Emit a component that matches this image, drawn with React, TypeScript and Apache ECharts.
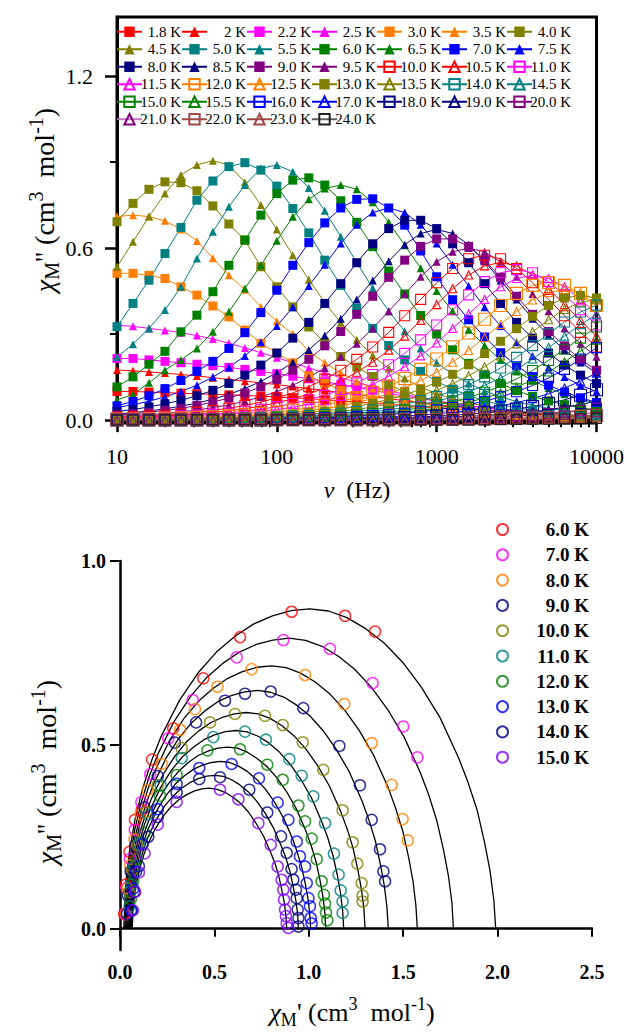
import React, { useEffect, useRef } from 'react';
import * as echarts from 'echarts';

// ---------- frequencies (Hz) ----------
const FREQ = [10, 12.59, 15.85, 19.95, 25.12, 31.62, 39.81, 50.12, 63.1, 79.43, 100, 125.9, 158.5, 199.5, 251.2, 316.2, 398.1, 501.2, 631, 794.3, 1000, 1259, 1585, 1995, 2512, 3162, 3981, 5012, 6310, 7943, 10000];

// ---------- chi'' vs frequency (cm3 mol-1) ----------
const T1_8 = [0.1, 0.1, 0.098, 0.096, 0.094, 0.092, 0.09, 0.088, 0.086, 0.084, 0.081, 0.078, 0.075, 0.071, 0.067, 0.063, 0.059, 0.055, 0.051, 0.047, 0.043, 0.039, 0.035, 0.031, 0.028, 0.025, 0.022, 0.019, 0.016, 0.014, 0.012];
const T2_0 = [0.175, 0.172, 0.168, 0.164, 0.159, 0.154, 0.148, 0.142, 0.136, 0.13, 0.124, 0.117, 0.11, 0.103, 0.096, 0.089, 0.082, 0.075, 0.068, 0.061, 0.054, 0.048, 0.042, 0.037, 0.032, 0.028, 0.024, 0.02, 0.017, 0.014, 0.012];
const T2_2 = [0.215, 0.215, 0.21, 0.205, 0.2, 0.195, 0.19, 0.184, 0.177, 0.17, 0.162, 0.153, 0.144, 0.134, 0.124, 0.114, 0.104, 0.094, 0.084, 0.075, 0.066, 0.058, 0.05, 0.043, 0.037, 0.031, 0.026, 0.022, 0.018, 0.015, 0.013];
const T2_5 = [0.331, 0.327, 0.32, 0.313, 0.305, 0.295, 0.283, 0.268, 0.252, 0.235, 0.218, 0.2, 0.182, 0.165, 0.148, 0.132, 0.117, 0.103, 0.09, 0.078, 0.068, 0.058, 0.05, 0.043, 0.037, 0.031, 0.027, 0.023, 0.02, 0.017, 0.015];
const T3_0 = [0.512, 0.512, 0.505, 0.494, 0.465, 0.436, 0.398, 0.36, 0.314, 0.268, 0.234, 0.2, 0.155, 0.128, 0.105, 0.085, 0.07, 0.057, 0.047, 0.04, 0.034, 0.029, 0.025, 0.021, 0.018, 0.016, 0.014, 0.012, 0.01, 0.009, 0.008];
const T3_5 = [0.71, 0.715, 0.71, 0.695, 0.665, 0.625, 0.565, 0.505, 0.455, 0.395, 0.345, 0.3, 0.24, 0.2, 0.165, 0.135, 0.11, 0.09, 0.073, 0.06, 0.05, 0.042, 0.035, 0.03, 0.025, 0.021, 0.018, 0.015, 0.013, 0.011, 0.01];
const T4_0 = [0.692, 0.756, 0.805, 0.831, 0.828, 0.8, 0.747, 0.684, 0.628, 0.535, 0.465, 0.395, 0.325, 0.27, 0.222, 0.185, 0.152, 0.123, 0.1, 0.081, 0.066, 0.054, 0.044, 0.036, 0.03, 0.025, 0.021, 0.017, 0.014, 0.012, 0.01];
const T4_5 = [0.535, 0.622, 0.71, 0.79, 0.855, 0.89, 0.905, 0.89, 0.83, 0.75, 0.665, 0.575, 0.49, 0.41, 0.34, 0.28, 0.225, 0.18, 0.145, 0.115, 0.092, 0.075, 0.06, 0.049, 0.04, 0.033, 0.027, 0.022, 0.018, 0.015, 0.012];
const T5_0 = [0.326, 0.407, 0.488, 0.581, 0.672, 0.767, 0.834, 0.884, 0.898, 0.872, 0.816, 0.738, 0.653, 0.558, 0.47, 0.39, 0.32, 0.26, 0.21, 0.17, 0.135, 0.108, 0.086, 0.068, 0.054, 0.043, 0.034, 0.027, 0.022, 0.018, 0.015];
const T5_5 = [0.22, 0.265, 0.32, 0.384, 0.465, 0.564, 0.657, 0.744, 0.82, 0.878, 0.89, 0.866, 0.81, 0.73, 0.64, 0.55, 0.46, 0.38, 0.31, 0.25, 0.2, 0.16, 0.128, 0.102, 0.081, 0.065, 0.052, 0.041, 0.033, 0.026, 0.021];
const T6_0 = [0.116, 0.151, 0.195, 0.24, 0.308, 0.366, 0.448, 0.54, 0.628, 0.715, 0.79, 0.837, 0.845, 0.82, 0.765, 0.69, 0.605, 0.52, 0.44, 0.365, 0.3, 0.245, 0.198, 0.16, 0.128, 0.103, 0.083, 0.067, 0.054, 0.043, 0.035];
const T6_5 = [0.07, 0.09, 0.13, 0.174, 0.21, 0.25, 0.308, 0.378, 0.459, 0.54, 0.626, 0.709, 0.77, 0.808, 0.82, 0.805, 0.76, 0.69, 0.61, 0.53, 0.45, 0.38, 0.315, 0.26, 0.21, 0.17, 0.138, 0.112, 0.09, 0.073, 0.059];
const T7_0 = [0.05, 0.065, 0.085, 0.11, 0.138, 0.17, 0.205, 0.25, 0.305, 0.375, 0.453, 0.54, 0.619, 0.688, 0.74, 0.77, 0.772, 0.74, 0.68, 0.59, 0.5, 0.42, 0.35, 0.29, 0.235, 0.19, 0.152, 0.122, 0.098, 0.078, 0.062];
const T7_5 = [0.044, 0.054, 0.066, 0.081, 0.1, 0.122, 0.15, 0.184, 0.224, 0.272, 0.328, 0.394, 0.468, 0.542, 0.616, 0.681, 0.724, 0.74, 0.724, 0.681, 0.616, 0.542, 0.468, 0.394, 0.328, 0.272, 0.224, 0.184, 0.15, 0.122, 0.1];
const T8_0 = [0.03, 0.037, 0.046, 0.057, 0.069, 0.085, 0.104, 0.128, 0.157, 0.192, 0.234, 0.286, 0.341, 0.407, 0.476, 0.549, 0.615, 0.668, 0.697, 0.697, 0.668, 0.615, 0.549, 0.476, 0.407, 0.341, 0.286, 0.234, 0.192, 0.157, 0.128];
const T8_5 = [0.021, 0.026, 0.032, 0.039, 0.049, 0.059, 0.073, 0.09, 0.11, 0.135, 0.165, 0.201, 0.245, 0.295, 0.354, 0.421, 0.487, 0.554, 0.612, 0.651, 0.665, 0.651, 0.612, 0.554, 0.487, 0.421, 0.354, 0.295, 0.245, 0.201, 0.165];
const T9_0 = [0.018, 0.022, 0.027, 0.034, 0.041, 0.051, 0.063, 0.077, 0.095, 0.116, 0.142, 0.174, 0.212, 0.259, 0.309, 0.369, 0.432, 0.498, 0.558, 0.606, 0.632, 0.632, 0.606, 0.558, 0.498, 0.432, 0.369, 0.309, 0.259, 0.212, 0.174];
const T9_5 = [0.013, 0.016, 0.019, 0.023, 0.029, 0.035, 0.044, 0.053, 0.066, 0.081, 0.099, 0.122, 0.149, 0.182, 0.221, 0.266, 0.32, 0.38, 0.44, 0.5, 0.552, 0.587, 0.6, 0.587, 0.552, 0.5, 0.44, 0.38, 0.32, 0.266, 0.221];
const T10_0 = [0.01, 0.012, 0.015, 0.018, 0.022, 0.028, 0.034, 0.042, 0.051, 0.063, 0.078, 0.095, 0.117, 0.143, 0.174, 0.212, 0.255, 0.306, 0.364, 0.421, 0.479, 0.529, 0.563, 0.575, 0.563, 0.529, 0.479, 0.421, 0.364, 0.306, 0.255];
const T10_5 = [0.008, 0.009, 0.012, 0.014, 0.018, 0.021, 0.027, 0.032, 0.04, 0.049, 0.061, 0.074, 0.091, 0.112, 0.136, 0.167, 0.202, 0.244, 0.293, 0.348, 0.403, 0.458, 0.506, 0.538, 0.55, 0.538, 0.506, 0.458, 0.403, 0.348, 0.293];
const T11_0 = [0.006, 0.007, 0.009, 0.011, 0.014, 0.017, 0.02, 0.025, 0.031, 0.038, 0.047, 0.058, 0.071, 0.087, 0.107, 0.13, 0.159, 0.193, 0.233, 0.28, 0.332, 0.385, 0.437, 0.483, 0.514, 0.525, 0.514, 0.483, 0.437, 0.385, 0.332];
const T11_5 = [0.005, 0.006, 0.007, 0.009, 0.011, 0.013, 0.016, 0.02, 0.025, 0.03, 0.037, 0.045, 0.056, 0.068, 0.083, 0.103, 0.125, 0.153, 0.186, 0.224, 0.269, 0.32, 0.37, 0.421, 0.465, 0.494, 0.505, 0.494, 0.465, 0.421, 0.37];
const T12_0 = [0.004, 0.004, 0.005, 0.007, 0.008, 0.01, 0.012, 0.015, 0.019, 0.023, 0.028, 0.035, 0.043, 0.053, 0.065, 0.079, 0.097, 0.119, 0.145, 0.177, 0.213, 0.256, 0.304, 0.352, 0.4, 0.442, 0.47, 0.48, 0.47, 0.442, 0.4];
const T12_5 = [0.003, 0.003, 0.004, 0.005, 0.006, 0.008, 0.01, 0.012, 0.015, 0.018, 0.022, 0.027, 0.033, 0.04, 0.05, 0.061, 0.075, 0.092, 0.113, 0.138, 0.167, 0.202, 0.243, 0.288, 0.334, 0.379, 0.419, 0.445, 0.455, 0.445, 0.419];
const T13_0 = [0.002, 0.003, 0.003, 0.004, 0.005, 0.006, 0.007, 0.009, 0.011, 0.014, 0.017, 0.021, 0.026, 0.032, 0.039, 0.048, 0.059, 0.072, 0.088, 0.108, 0.132, 0.16, 0.193, 0.232, 0.275, 0.319, 0.362, 0.4, 0.426, 0.435, 0.426];
const T13_5 = [0.002, 0.002, 0.003, 0.003, 0.004, 0.005, 0.006, 0.007, 0.009, 0.011, 0.013, 0.016, 0.02, 0.025, 0.031, 0.037, 0.046, 0.057, 0.069, 0.085, 0.104, 0.127, 0.155, 0.186, 0.224, 0.266, 0.308, 0.35, 0.386, 0.411, 0.42];
const T14_0 = [0.001, 0.002, 0.002, 0.002, 0.003, 0.004, 0.005, 0.006, 0.007, 0.009, 0.011, 0.013, 0.016, 0.02, 0.024, 0.03, 0.036, 0.045, 0.055, 0.068, 0.083, 0.102, 0.124, 0.151, 0.182, 0.219, 0.26, 0.301, 0.342, 0.377, 0.401];
const T14_5 = [0.001, 0.001, 0.002, 0.002, 0.002, 0.003, 0.004, 0.004, 0.006, 0.007, 0.008, 0.01, 0.013, 0.016, 0.019, 0.024, 0.029, 0.036, 0.044, 0.054, 0.066, 0.081, 0.099, 0.121, 0.147, 0.177, 0.213, 0.253, 0.293, 0.333, 0.368];
const T15_0 = [0.001, 0.001, 0.001, 0.002, 0.002, 0.002, 0.003, 0.004, 0.004, 0.005, 0.007, 0.008, 0.01, 0.012, 0.015, 0.019, 0.023, 0.028, 0.035, 0.043, 0.053, 0.064, 0.079, 0.097, 0.118, 0.144, 0.173, 0.208, 0.247, 0.286, 0.325];
const T15_5 = [0.001, 0.001, 0.001, 0.001, 0.002, 0.002, 0.002, 0.003, 0.003, 0.004, 0.005, 0.006, 0.008, 0.01, 0.012, 0.015, 0.018, 0.022, 0.028, 0.034, 0.042, 0.051, 0.063, 0.077, 0.094, 0.115, 0.14, 0.168, 0.203, 0.241, 0.279];
const T16_0 = [0.001, 0.001, 0.001, 0.001, 0.001, 0.002, 0.002, 0.002, 0.003, 0.004, 0.004, 0.006, 0.007, 0.008, 0.01, 0.013, 0.016, 0.019, 0.024, 0.029, 0.036, 0.044, 0.054, 0.066, 0.081, 0.099, 0.121, 0.147, 0.177, 0.213, 0.253];
const T17_0 = [0.001, 0.001, 0.001, 0.001, 0.001, 0.001, 0.001, 0.001, 0.002, 0.002, 0.003, 0.003, 0.004, 0.005, 0.006, 0.008, 0.01, 0.012, 0.014, 0.018, 0.022, 0.027, 0.033, 0.041, 0.05, 0.061, 0.075, 0.092, 0.112, 0.136, 0.164];
const T18_0 = [0.001, 0.001, 0.001, 0.001, 0.001, 0.001, 0.001, 0.001, 0.001, 0.001, 0.002, 0.002, 0.003, 0.003, 0.004, 0.005, 0.006, 0.007, 0.009, 0.011, 0.014, 0.017, 0.021, 0.026, 0.031, 0.039, 0.047, 0.058, 0.071, 0.087, 0.106];
const T19_0 = [0.001, 0.001, 0.001, 0.001, 0.001, 0.001, 0.001, 0.001, 0.001, 0.001, 0.001, 0.001, 0.002, 0.002, 0.002, 0.003, 0.004, 0.005, 0.006, 0.007, 0.009, 0.011, 0.013, 0.016, 0.019, 0.024, 0.029, 0.036, 0.045, 0.054, 0.067];
const T20_0 = [0.001, 0.001, 0.001, 0.001, 0.001, 0.001, 0.001, 0.001, 0.001, 0.001, 0.001, 0.001, 0.001, 0.001, 0.002, 0.002, 0.002, 0.003, 0.003, 0.004, 0.005, 0.007, 0.008, 0.01, 0.012, 0.015, 0.018, 0.023, 0.028, 0.034, 0.042];
const T21_0 = [0.001, 0.001, 0.001, 0.001, 0.001, 0.001, 0.001, 0.001, 0.001, 0.001, 0.001, 0.001, 0.001, 0.001, 0.001, 0.001, 0.001, 0.002, 0.002, 0.003, 0.003, 0.004, 0.005, 0.006, 0.008, 0.009, 0.011, 0.014, 0.017, 0.021, 0.026];
const T22_0 = [0.001, 0.001, 0.001, 0.001, 0.001, 0.001, 0.001, 0.001, 0.001, 0.001, 0.001, 0.001, 0.001, 0.001, 0.001, 0.001, 0.001, 0.001, 0.001, 0.002, 0.002, 0.002, 0.003, 0.004, 0.005, 0.006, 0.007, 0.009, 0.011, 0.013, 0.016];
const T23_0 = [0.001, 0.001, 0.001, 0.001, 0.001, 0.001, 0.001, 0.001, 0.001, 0.001, 0.001, 0.001, 0.001, 0.001, 0.001, 0.001, 0.001, 0.001, 0.001, 0.001, 0.001, 0.001, 0.002, 0.002, 0.003, 0.004, 0.004, 0.005, 0.007, 0.008, 0.01];
const T24_0 = [0.001, 0.001, 0.001, 0.001, 0.001, 0.001, 0.001, 0.001, 0.001, 0.001, 0.001, 0.001, 0.001, 0.001, 0.001, 0.001, 0.001, 0.001, 0.001, 0.001, 0.001, 0.001, 0.001, 0.001, 0.002, 0.002, 0.003, 0.003, 0.004, 0.005, 0.006];

// ---------- Cole-Cole data [chi', chi''] ----------
const CC6 = [[0.022, 0.04], [0.03, 0.12], [0.05, 0.209], [0.079, 0.296], [0.115, 0.323], [0.17, 0.46], [0.282, 0.545], [0.441, 0.681], [0.636, 0.793], [0.909, 0.862], [1.192, 0.851], [1.351, 0.808]];
const CC7 = [[0.027, 0.04], [0.034, 0.111], [0.052, 0.19], [0.078, 0.269], [0.113, 0.344], [0.16, 0.42], [0.256, 0.518], [0.385, 0.622], [0.618, 0.738], [0.865, 0.785], [1.112, 0.761], [1.338, 0.668], [1.5, 0.55], [1.575, 0.466]];
const CC8 = [[0.032, 0.04], [0.04, 0.11], [0.054, 0.172], [0.077, 0.243], [0.108, 0.311], [0.146, 0.377], [0.221, 0.448], [0.318, 0.541], [0.397, 0.597], [0.516, 0.658], [0.697, 0.706], [0.98, 0.69], [1.188, 0.611], [1.333, 0.505], [1.439, 0.391], [1.497, 0.298], [1.524, 0.24]];
const CC9 = [[0.037, 0.04], [0.042, 0.09], [0.056, 0.156], [0.08, 0.226], [0.13, 0.33], [0.2, 0.415], [0.291, 0.506], [0.403, 0.561], [0.556, 0.62], [0.662, 0.639], [0.798, 0.645], [0.971, 0.6], [1.162, 0.497], [1.271, 0.39], [1.333, 0.296], [1.377, 0.216], [1.395, 0.156], [1.404, 0.129]];
const CC10 = [[0.05, 0.1], [0.065, 0.16], [0.09, 0.227], [0.14, 0.318], [0.2, 0.39], [0.327, 0.491], [0.477, 0.561], [0.609, 0.584], [0.768, 0.579], [0.862, 0.554], [0.968, 0.507], [1.077, 0.432], [1.179, 0.322], [1.232, 0.235], [1.257, 0.177], [1.28, 0.124], [1.285, 0.09], [1.285, 0.074]];
const CC11 = [[0.05, 0.06], [0.06, 0.12], [0.075, 0.17], [0.1, 0.23], [0.15, 0.31], [0.215, 0.39], [0.327, 0.464], [0.494, 0.521], [0.662, 0.536], [0.773, 0.514], [0.897, 0.461], [0.962, 0.416], [1.024, 0.36], [1.086, 0.287], [1.133, 0.204], [1.158, 0.147], [1.169, 0.104], [1.179, 0.074], [1.179, 0.043]];
const CC12 = [[0.057, 0.08], [0.07, 0.13], [0.09, 0.19], [0.13, 0.26], [0.212, 0.361], [0.3, 0.418], [0.463, 0.485], [0.636, 0.488], [0.78, 0.446], [0.862, 0.405], [0.945, 0.335], [0.98, 0.292], [1.015, 0.245], [1.042, 0.189], [1.068, 0.129], [1.08, 0.092], [1.086, 0.068], [1.091, 0.044], [1.098, 0.023]];
const CC13 = [[0.058, 0.05], [0.07, 0.109], [0.085, 0.155], [0.12, 0.23], [0.2, 0.325], [0.3, 0.394], [0.42, 0.437], [0.591, 0.448], [0.736, 0.409], [0.835, 0.343], [0.892, 0.296], [0.936, 0.237], [0.953, 0.197], [0.98, 0.169], [0.989, 0.124], [0.998, 0.083], [1.006, 0.061], [1.01, 0.029], [1.015, 0.014]];
const CC14 = [[0.063, 0.05], [0.075, 0.1], [0.1, 0.17], [0.15, 0.25], [0.2, 0.304], [0.3, 0.37], [0.42, 0.407], [0.53, 0.412], [0.685, 0.378], [0.78, 0.316], [0.853, 0.251], [0.883, 0.206], [0.909, 0.162], [0.918, 0.133], [0.932, 0.106], [0.936, 0.083], [0.941, 0.052], [0.945, 0.029], [0.945, 0.006]];
const CC15 = [[0.068, 0.05], [0.08, 0.1], [0.1, 0.153], [0.13, 0.205], [0.2, 0.283], [0.3, 0.345], [0.53, 0.378], [0.627, 0.352], [0.733, 0.287], [0.798, 0.228], [0.835, 0.169], [0.856, 0.133], [0.865, 0.106], [0.869, 0.079], [0.874, 0.052], [0.879, 0.034], [0.883, 0.015], [0.892, 0.002]];

// ---------- Cole-Cole fitted curves: x values and y values ----------
const FIT6_X = [0.02, 0.03, 0.05, 0.079, 0.118, 0.168, 0.217, 0.315, 0.414, 0.512, 0.611, 0.709, 0.808, 0.906, 1.005, 1.104, 1.202, 1.301, 1.399, 1.498, 1.596, 1.695, 1.793, 1.842, 1.892, 1.931, 1.96, 1.98, 1.99];
const FIT6_Y = [0, 0.122, 0.209, 0.296, 0.378, 0.458, 0.522, 0.621, 0.696, 0.753, 0.796, 0.829, 0.851, 0.865, 0.87, 0.864, 0.846, 0.816, 0.777, 0.724, 0.657, 0.574, 0.465, 0.4, 0.322, 0.235, 0.157, 0.078, 0];
const FIT7_X = [0.025, 0.034, 0.052, 0.078, 0.113, 0.156, 0.2, 0.287, 0.374, 0.461, 0.548, 0.635, 0.722, 0.809, 0.896, 0.983, 1.07, 1.157, 1.244, 1.331, 1.418, 1.505, 1.592, 1.636, 1.679, 1.714, 1.74, 1.758, 1.766];
const FIT7_Y = [0, 0.111, 0.19, 0.269, 0.344, 0.416, 0.474, 0.564, 0.632, 0.684, 0.723, 0.753, 0.773, 0.785, 0.79, 0.784, 0.768, 0.741, 0.705, 0.657, 0.596, 0.521, 0.423, 0.363, 0.292, 0.213, 0.142, 0.071, 0];
const FIT8_X = [0.03, 0.038, 0.054, 0.077, 0.108, 0.146, 0.185, 0.262, 0.339, 0.417, 0.494, 0.571, 0.648, 0.726, 0.803, 0.88, 0.957, 1.034, 1.112, 1.189, 1.266, 1.343, 1.421, 1.459, 1.498, 1.529, 1.552, 1.567, 1.575];
const FIT8_Y = [0, 0.1, 0.172, 0.243, 0.311, 0.377, 0.429, 0.511, 0.572, 0.619, 0.654, 0.681, 0.699, 0.711, 0.715, 0.71, 0.695, 0.671, 0.638, 0.595, 0.54, 0.472, 0.383, 0.329, 0.265, 0.193, 0.129, 0.064, 0];
const FIT9_X = [0.035, 0.042, 0.056, 0.077, 0.104, 0.139, 0.174, 0.243, 0.312, 0.381, 0.451, 0.52, 0.589, 0.659, 0.728, 0.797, 0.867, 0.936, 1.005, 1.075, 1.144, 1.213, 1.282, 1.317, 1.352, 1.379, 1.4, 1.414, 1.421];
const FIT9_Y = [0, 0.091, 0.156, 0.22, 0.282, 0.341, 0.389, 0.463, 0.518, 0.561, 0.593, 0.618, 0.634, 0.644, 0.648, 0.643, 0.63, 0.608, 0.579, 0.539, 0.489, 0.428, 0.347, 0.298, 0.24, 0.175, 0.117, 0.058, 0];
const FIT10_X = [0.04, 0.046, 0.059, 0.078, 0.103, 0.134, 0.166, 0.229, 0.292, 0.354, 0.417, 0.48, 0.543, 0.606, 0.669, 0.732, 0.795, 0.858, 0.921, 0.984, 1.046, 1.109, 1.172, 1.204, 1.235, 1.26, 1.279, 1.292, 1.298];
const FIT10_Y = [0, 0.082, 0.141, 0.2, 0.256, 0.31, 0.353, 0.42, 0.47, 0.509, 0.538, 0.56, 0.575, 0.584, 0.588, 0.584, 0.572, 0.552, 0.525, 0.489, 0.444, 0.388, 0.315, 0.27, 0.218, 0.159, 0.106, 0.053, 0];
const FIT11_X = [0.045, 0.051, 0.062, 0.079, 0.102, 0.13, 0.159, 0.216, 0.273, 0.33, 0.387, 0.444, 0.501, 0.558, 0.615, 0.672, 0.729, 0.786, 0.843, 0.9, 0.957, 1.014, 1.071, 1.1, 1.128, 1.151, 1.168, 1.179, 1.185];
const FIT11_Y = [0, 0.075, 0.129, 0.183, 0.234, 0.284, 0.323, 0.385, 0.431, 0.467, 0.493, 0.514, 0.527, 0.536, 0.539, 0.535, 0.524, 0.506, 0.481, 0.448, 0.407, 0.356, 0.288, 0.248, 0.199, 0.146, 0.097, 0.049, 0];
const FIT12_X = [0.05, 0.055, 0.066, 0.081, 0.102, 0.128, 0.154, 0.206, 0.258, 0.31, 0.362, 0.414, 0.466, 0.518, 0.57, 0.622, 0.674, 0.726, 0.778, 0.83, 0.882, 0.934, 0.986, 1.012, 1.038, 1.059, 1.074, 1.085, 1.09];
const FIT12_Y = [0, 0.069, 0.119, 0.168, 0.215, 0.26, 0.296, 0.353, 0.395, 0.428, 0.452, 0.471, 0.483, 0.491, 0.494, 0.491, 0.48, 0.463, 0.441, 0.411, 0.373, 0.326, 0.264, 0.227, 0.183, 0.133, 0.089, 0.044, 0];
const FIT13_X = [0.055, 0.06, 0.07, 0.084, 0.103, 0.127, 0.151, 0.199, 0.246, 0.294, 0.342, 0.39, 0.437, 0.485, 0.533, 0.58, 0.628, 0.676, 0.724, 0.771, 0.819, 0.867, 0.915, 0.938, 0.962, 0.981, 0.996, 1.005, 1.01];
const FIT13_Y = [0, 0.064, 0.109, 0.155, 0.198, 0.24, 0.273, 0.325, 0.364, 0.394, 0.416, 0.434, 0.445, 0.452, 0.455, 0.452, 0.442, 0.427, 0.406, 0.379, 0.344, 0.3, 0.243, 0.209, 0.168, 0.123, 0.082, 0.041, 0];
const FIT14_X = [0.06, 0.065, 0.074, 0.087, 0.105, 0.127, 0.149, 0.193, 0.237, 0.282, 0.326, 0.37, 0.414, 0.459, 0.503, 0.547, 0.591, 0.635, 0.68, 0.724, 0.768, 0.812, 0.856, 0.879, 0.901, 0.918, 0.932, 0.941, 0.945];
const FIT14_Y = [0, 0.058, 0.1, 0.142, 0.181, 0.22, 0.25, 0.298, 0.334, 0.361, 0.382, 0.397, 0.408, 0.415, 0.417, 0.414, 0.405, 0.391, 0.372, 0.347, 0.315, 0.275, 0.223, 0.192, 0.154, 0.113, 0.075, 0.038, 0];
const FIT15_X = [0.065, 0.069, 0.077, 0.09, 0.106, 0.126, 0.147, 0.188, 0.229, 0.269, 0.31, 0.351, 0.392, 0.433, 0.474, 0.515, 0.556, 0.597, 0.638, 0.679, 0.719, 0.76, 0.801, 0.822, 0.842, 0.858, 0.871, 0.879, 0.883];
const FIT15_Y = [0, 0.053, 0.092, 0.13, 0.166, 0.201, 0.229, 0.273, 0.306, 0.331, 0.35, 0.364, 0.374, 0.38, 0.382, 0.379, 0.371, 0.358, 0.341, 0.318, 0.288, 0.252, 0.204, 0.176, 0.141, 0.103, 0.069, 0.034, 0];

// ---------- tick labels ----------
const TOP_Y_TICKS = [0, 0.6, 1.2];
const TOP_Y_MINOR = [0.3, 0.9];
const TOP_X_MINOR_LOG = [1.30103, 1.47712, 1.60206, 1.69897, 1.77815, 1.8451, 1.90309, 1.95424, 2.30103, 2.47712, 2.60206, 2.69897, 2.77815, 2.8451, 2.90309, 2.95424, 3.30103, 3.47712, 3.60206, 3.69897, 3.77815, 3.8451, 3.90309, 3.95424];
const BOT_Y_TICKS = [0, 0.5, 1.0];

// ---------- styles ----------
const RED = '#FF0000', MAG = '#FF00FF', ORA = '#FF8000', OLI = '#808000', TEA = '#008080', GRN = '#008000', BLU = '#0000FF', NAV = '#000080', PUR = '#800080', BRN = '#A04848', BLK = '#202020';

const TOP_META = [
  { name: '1.8 K', data: T1_8, color: RED, symbol: 'rect', open: false },
  { name: '2 K', data: T2_0, color: RED, symbol: 'triangle', open: false },
  { name: '2.2 K', data: T2_2, color: MAG, symbol: 'rect', open: false },
  { name: '2.5 K', data: T2_5, color: MAG, symbol: 'triangle', open: false },
  { name: '3.0 K', data: T3_0, color: ORA, symbol: 'rect', open: false },
  { name: '3.5 K', data: T3_5, color: ORA, symbol: 'triangle', open: false },
  { name: '4.0 K', data: T4_0, color: OLI, symbol: 'rect', open: false },
  { name: '4.5 K', data: T4_5, color: OLI, symbol: 'triangle', open: false },
  { name: '5.0 K', data: T5_0, color: TEA, symbol: 'rect', open: false },
  { name: '5.5 K', data: T5_5, color: TEA, symbol: 'triangle', open: false },
  { name: '6.0 K', data: T6_0, color: GRN, symbol: 'rect', open: false },
  { name: '6.5 K', data: T6_5, color: GRN, symbol: 'triangle', open: false },
  { name: '7.0 K', data: T7_0, color: BLU, symbol: 'rect', open: false },
  { name: '7.5 K', data: T7_5, color: BLU, symbol: 'triangle', open: false },
  { name: '8.0 K', data: T8_0, color: NAV, symbol: 'rect', open: false },
  { name: '8.5 K', data: T8_5, color: NAV, symbol: 'triangle', open: false },
  { name: '9.0 K', data: T9_0, color: PUR, symbol: 'rect', open: false },
  { name: '9.5 K', data: T9_5, color: PUR, symbol: 'triangle', open: false },
  { name: '10.0 K', data: T10_0, color: RED, symbol: 'rect', open: true },
  { name: '10.5 K', data: T10_5, color: RED, symbol: 'triangle', open: true },
  { name: '11.0 K', data: T11_0, color: MAG, symbol: 'rect', open: true },
  { name: '11.5 K', data: T11_5, color: MAG, symbol: 'triangle', open: true },
  { name: '12.0 K', data: T12_0, color: ORA, symbol: 'rect', open: true, big: true },
  { name: '12.5 K', data: T12_5, color: ORA, symbol: 'triangle', open: true },
  { name: '13.0 K', data: T13_0, color: OLI, symbol: 'rect', open: false },
  { name: '13.5 K', data: T13_5, color: OLI, symbol: 'triangle', open: true },
  { name: '14.0 K', data: T14_0, color: TEA, symbol: 'rect', open: true },
  { name: '14.5 K', data: T14_5, color: TEA, symbol: 'triangle', open: true },
  { name: '15.0 K', data: T15_0, color: GRN, symbol: 'rect', open: true },
  { name: '15.5 K', data: T15_5, color: GRN, symbol: 'triangle', open: true },
  { name: '16.0 K', data: T16_0, color: BLU, symbol: 'rect', open: true },
  { name: '17.0 K', data: T17_0, color: BLU, symbol: 'triangle', open: true },
  { name: '18.0 K', data: T18_0, color: NAV, symbol: 'rect', open: true, big: true },
  { name: '19.0 K', data: T19_0, color: NAV, symbol: 'triangle', open: true },
  { name: '20.0 K', data: T20_0, color: PUR, symbol: 'rect', open: true },
  { name: '21.0 K', data: T21_0, color: PUR, symbol: 'triangle', open: true, line: '#C070C0' },
  { name: '22.0 K', data: T22_0, color: BRN, symbol: 'rect', open: true, big: true },
  { name: '23.0 K', data: T23_0, color: BRN, symbol: 'triangle', open: true },
  { name: '24.0 K', data: T24_0, color: BLK, symbol: 'rect', open: true, line: '#606060' },
];

const CC_META = [
  { name: ' 6.0 K', pts: CC6, fx: FIT6_X, fy: FIT6_Y, color: '#FF0000' },
  { name: ' 7.0 K', pts: CC7, fx: FIT7_X, fy: FIT7_Y, color: '#FF00FF' },
  { name: ' 8.0 K', pts: CC8, fx: FIT8_X, fy: FIT8_Y, color: '#FF8000' },
  { name: ' 9.0 K', pts: CC9, fx: FIT9_X, fy: FIT9_Y, color: '#000080' },
  { name: ' 10.0 K', pts: CC10, fx: FIT10_X, fy: FIT10_Y, color: '#808000' },
  { name: ' 11.0 K', pts: CC11, fx: FIT11_X, fy: FIT11_Y, color: '#008080' },
  { name: ' 12.0 K', pts: CC12, fx: FIT12_X, fy: FIT12_Y, color: '#008000' },
  { name: ' 13.0 K', pts: CC13, fx: FIT13_X, fy: FIT13_Y, color: '#0000FF' },
  { name: ' 14.0 K', pts: CC14, fx: FIT14_X, fy: FIT14_Y, color: '#000080' },
  { name: ' 15.0 K', pts: CC15, fx: FIT15_X, fy: FIT15_Y, color: '#8000FF' },
];

const SERIF = '"Liberation Serif", "Times New Roman", Times, serif';

function richLabel(fs: number, sfs: number) {
  const lh = Math.round(fs * 1.3);
  return {
    i: { fontFamily: SERIF, fontStyle: 'italic', fontSize: fs, lineHeight: lh, color: '#000' },
    n: { fontFamily: SERIF, fontSize: fs, lineHeight: lh, color: '#000' },
    sup: { fontFamily: SERIF, fontSize: sfs, lineHeight: sfs, verticalAlign: 'top', color: '#000' },
    sub: { fontFamily: SERIF, fontSize: sfs, lineHeight: sfs, verticalAlign: 'bottom', color: '#000' },
  };
}

function buildOption() {
  const topSeries = TOP_META.map((m: any) => {
    let size = m.symbol === 'rect' ? (m.open ? 10 : 9) : 8;
    if (m.big) size = 12;
    return {
      type: 'line',
      name: m.name,
      xAxisIndex: 0,
      yAxisIndex: 0,
      data: FREQ.map((f, i) => [f, m.data[i]]),
      symbol: m.symbol,
      symbolSize: size,
      showSymbol: true,
      lineStyle: { color: m.line || m.color, width: 1 },
      itemStyle: m.open
        ? { color: 'rgba(255,255,255,0)', borderColor: m.color, borderWidth: 1.1 }
        : { color: m.color, borderWidth: 0 },
      emphasis: { disabled: true },
      z: 2,
    };
  });

  const fitSeries = CC_META.map((m) => ({
    type: 'line',
    name: 'fit' + m.name,
    xAxisIndex: 2,
    yAxisIndex: 2,
    data: m.fx.map((x, i) => [x, m.fy[i]]),
    symbol: 'none',
    lineStyle: { color: '#000', width: 1.3 },
    emphasis: { disabled: true },
    z: 2,
  }));

  const ccSeries = CC_META.map((m) => ({
    type: 'scatter',
    name: m.name,
    xAxisIndex: 2,
    yAxisIndex: 2,
    data: m.pts,
    symbol: 'circle',
    symbolSize: 11,
    itemStyle: { color: 'rgba(255,255,255,0)', borderColor: m.color, borderWidth: 1.5 },
    emphasis: { disabled: true },
    z: 3,
  }));

  const axisLine = { show: true, lineStyle: { color: '#000', width: 2.5 } };

  return {
    animation: false,
    backgroundColor: '#fff',
    grid: [
      { left: 117, top: 17, width: 480, height: 406, show: true, borderColor: '#000', borderWidth: 3, backgroundColor: 'rgba(0,0,0,0)' },
      { left: 120, top: 561, width: 472, height: 389 },
    ],
    xAxis: [
      {
        type: 'log', gridIndex: 0, min: 10, max: 10000, logBase: 10, position: 'bottom',
        axisLine: { show: true, lineStyle: { color: '#000', width: 3 } },
        axisTick: { show: true, inside: false, length: 12, lineStyle: { color: '#000', width: 2.5 } },
        axisLabel: { fontSize: 22, fontFamily: SERIF, color: '#000', margin: 22, formatter: (v: number) => String(Math.round(v)) },
        splitLine: { show: false },
        minorTick: { show: false },
      },
      {
        type: 'value', gridIndex: 0, min: 1, max: 4, position: 'bottom',
        axisLine: { show: false },
        axisTick: { show: true, inside: false, length: 7, lineStyle: { color: '#000', width: 2 }, customValues: TOP_X_MINOR_LOG },
        axisLabel: { show: false },
        splitLine: { show: false },
      },
      {
        type: 'value', gridIndex: 1, min: 0, max: 2.5, interval: 0.5, position: 'bottom',
        axisLine,
        axisTick: { show: true, inside: false, length: 8, lineStyle: { color: '#000', width: 2 } },
        axisLabel: { fontSize: 20, fontWeight: 'bold', fontFamily: SERIF, color: '#000', margin: 12, formatter: (v: number) => v.toFixed(1) },
        splitLine: { show: false },
      },
    ],
    yAxis: [
      {
        type: 'value', gridIndex: 0, min: -0.01, max: 1.406, position: 'left',
        axisLine: { show: true, lineStyle: { color: '#000', width: 3 } },
        axisTick: { show: true, inside: false, length: 12, lineStyle: { color: '#000', width: 2.5 }, customValues: TOP_Y_TICKS },
        axisLabel: { customValues: TOP_Y_TICKS, fontSize: 22, fontFamily: SERIF, color: '#000', margin: 24, formatter: (v: number) => v.toFixed(1) },
        splitLine: { show: false },
      },
      {
        type: 'value', gridIndex: 0, min: -0.01, max: 1.406, position: 'left',
        axisLine: { show: false },
        axisTick: { show: true, inside: false, length: 7, lineStyle: { color: '#000', width: 2 }, customValues: TOP_Y_MINOR },
        axisLabel: { show: false },
        splitLine: { show: false },
      },
      {
        type: 'value', gridIndex: 1, min: -0.058, max: 1.0, position: 'left',
        axisLine,
        axisTick: { show: true, inside: false, length: 10, lineStyle: { color: '#000', width: 2 }, customValues: BOT_Y_TICKS },
        axisLabel: { customValues: BOT_Y_TICKS, fontSize: 20, fontWeight: 'bold', fontFamily: SERIF, color: '#000', margin: 14, formatter: (v: number) => v.toFixed(1) },
        splitLine: { show: false },
      },
    ],
    legend: [
      {
        left: 116, top: 23, width: 490, padding: 0, itemGap: 0,
        itemWidth: 25, itemHeight: 13,
        selectedMode: false,
        data: TOP_META.map((m) => m.name),
        formatter: '{t|{name}}',
        textStyle: {
          fontSize: 15, lineHeight: 17.5, fontFamily: SERIF,
          rich: { t: { width: 34, height: 17.5, align: 'right', verticalAlign: 'middle', fontSize: 15, fontFamily: SERIF, color: '#000', lineHeight: 17.5 } },
        },
      },
      {
        orient: 'vertical', left: 496, top: 520, padding: 0, itemGap: 6.3,
        itemWidth: 11, itemHeight: 11,
        selectedMode: false,
        data: CC_META.map((m) => m.name),
        formatter: '{t|{name}}',
        textStyle: { rich: { t: { width: 76, align: 'right', fontSize: 19, fontWeight: 'bold', fontFamily: SERIF, color: '#000', lineHeight: 20 } } },
      },
    ],
    graphic: [
      {
        type: 'text', x: 44, y: 200, rotation: Math.PI / 2,
        style: {
          text: "{i|χ}{sub|M}{n|'' (cm}{sup|3}{n|  mol}{sup|-1}{n|)}",
          rich: richLabel(28, 20), align: 'center', verticalAlign: 'middle',
        },
      },
      {
        type: 'text', x: 357, y: 490,
        style: { text: '{i|ν}{n|  (Hz)}', rich: richLabel(24, 16), align: 'center', verticalAlign: 'middle' },
      },
      {
        type: 'text', x: 46, y: 772, rotation: Math.PI / 2,
        style: {
          text: "{i|χ}{sub|M}{n|'' (cm}{sup|3}{n|  mol}{sup|-1}{n|)}",
          rich: richLabel(28, 20), align: 'center', verticalAlign: 'middle',
        },
      },
      {
        type: 'text', x: 352, y: 1012,
        style: {
          text: "{i|χ}{sub|M}{n|' (cm}{sup|3}{n|  mol}{sup|-1}{n|)}",
          rich: richLabel(26, 18), align: 'center', verticalAlign: 'middle',
        },
      },
    ],
    series: [...topSeries, ...fitSeries, ...ccSeries],
  };
}

export default function App() {
  const ref = useRef<HTMLDivElement | null>(null);
  useEffect(() => {
    if (!ref.current) return;
    const chart = echarts.init(ref.current, undefined, { renderer: 'svg' });
    chart.setOption(buildOption() as any);
    return () => chart.dispose();
  }, []);
  return <div ref={ref} style={{ position: 'absolute', left: 0, top: 0, width: 627, height: 1034, background: '#fff' }} />;
}
